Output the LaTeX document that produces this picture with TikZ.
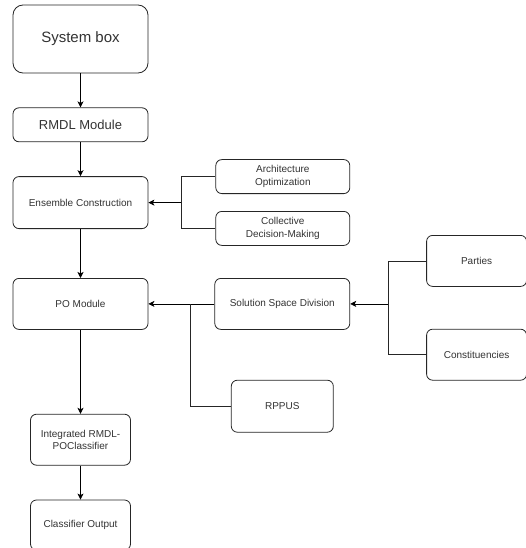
\documentclass[tikz,border=0pt]{standalone}
\usepackage{fontspec}
\setmainfont{Liberation Sans}
\usetikzlibrary{arrows.meta, positioning}
\tikzset{
    block/.style={rectangle, rounded corners=6pt, draw=black!85, fill=white, line width=0.8pt, align=center, text=black!80, inner sep=2pt, font=\fontsize{10}{12.5}\selectfont},
    bigblock/.style={block, rounded corners=10pt, minimum width=135pt, minimum height=68pt, font=\fontsize{15}{18}\selectfont},
    wideblock/.style={block, minimum width=135pt, minimum height=51pt},
    smallblock/.style={block, minimum width=100pt, minimum height=51pt},
    arrow/.style={-{Stealth[length=6pt, width=6pt, inset=1.5pt]}, line width=0.8pt, draw=black},
    line/.style={line width=0.8pt, draw=black!85}
}
\begin{document}
\begin{tikzpicture}
    \useasboundingbox (0,0) rectangle (525pt,-548pt);

    % Main column (left)
    \node[bigblock] (sysbox) at (80.5pt,-39pt) {System box};
    \node[block, minimum width=135pt, minimum height=34pt, font=\fontsize{13}{15}\selectfont, below=34pt of sysbox] (rmdl) {RMDL Module};
    \node[block, minimum width=135pt, minimum height=52pt, below=34pt of rmdl] (ensemble) {Ensemble Construction};
    \node[wideblock, below=49pt of ensemble] (pomod) {PO Module};
    \node[smallblock, below=84pt of pomod] (integ) {Integrated RMDL-\\POClassifier};
    \node[smallblock, minimum height=50pt, below=34pt of integ] (clsout) {Classifier Output};

    % Ensemble inputs
    \node[block, minimum width=134pt, minimum height=34pt, right=67pt of ensemble, yshift=26pt] (arch) {Architecture\\Optimization};
    \node[block, minimum width=134pt, minimum height=34pt, below=17pt of arch] (collect) {Collective\\Decision-Making};

    % PO inputs
    \node[wideblock, right=66pt of pomod] (solution) {Solution Space Division};
    \node[block, minimum width=102pt, minimum height=52pt, below=50pt of solution] (rppus) {RPPUS};

    % Solution space inputs
    \node[smallblock, right=76pt of solution, yshift=43pt] (parties) {Parties};
    \node[smallblock, below=42pt of parties] (constit) {Constituencies};

    % Junctions
    \coordinate[right=33pt of ensemble.east] (ensjoin);
    \coordinate[right=42pt of pomod.east] (pojoin);
    \coordinate[right=38pt of solution.east] (soljoin);

    % Lines
    \draw[arrow] (sysbox) -- (rmdl);
    \draw[arrow] (rmdl) -- (ensemble);
    \draw[arrow] (ensemble) -- (pomod);
    \draw[arrow] (pomod) -- (integ);
    \draw[arrow] (integ) -- (clsout);
    \draw[line] (arch.west) -| (ensjoin);
    \draw[line] (collect.west) -| (ensjoin);
    \draw[arrow] (ensjoin) -- (ensemble.east);
    \draw[arrow] (solution.west) -- (pomod.east);
    \draw[line] (rppus.west) -| (pojoin);
    \draw[line] (parties.west) -| (soljoin);
    \draw[line] (constit.west) -| (soljoin);
    \draw[arrow] (soljoin) -- (solution.east);
\end{tikzpicture}
\end{document}
